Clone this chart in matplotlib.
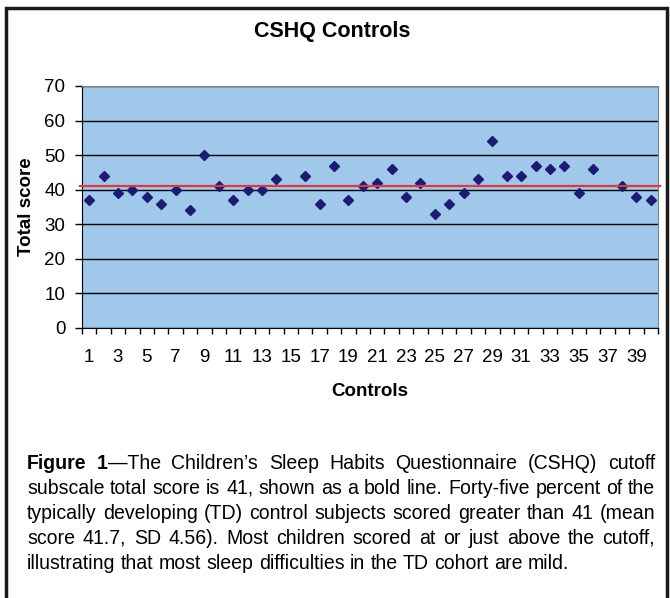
import numpy as np
import matplotlib
matplotlib.use('Agg')
from matplotlib import pyplot as plt
from matplotlib.patches import Rectangle
from matplotlib.transforms import IdentityTransform

# Values
controls = list(range(1, 41))
scores = [37, 44, 39, 40, 38, 36, 40, 34, 50, 41, 37, 40, 40, 43, np.nan, 44, 36, 47, 37,
          41, 42, 46, 38, 42, 33, 36, 39, 43, 54, 44, 44, 47, 46, 47, 39, 46, np.nan, 41, 38, 37]
cutoff = 41
yticks = list(range(0, 71, 10))
xtick_labels = [str(c) for c in controls[::2]]
title = 'CSHQ Controls'
xlabel, ylabel = 'Controls', 'Total score'
caption = [
    'Figure 1—The Children’s Sleep Habits Questionnaire (CSHQ) cutoff',
    'subscale total score is 41, shown as a bold line. Forty-five percent of the',
    'typically developing (TD) control subjects scored greater than 41 (mean',
    'score 41.7, SD 4.56). Most children scored at or just above the cutoff,',
    'illustrating that most sleep difficulties in the TD cohort are mild.',
]
bold_prefix = 'Figure 1'

plt.rcParams['font.family'] = ['Liberation Sans', 'DejaVu Sans']
W, H = 670, 598
fig = plt.figure(figsize=(W / 100, H / 100), dpi=100)
ax = fig.add_axes([82 / W, 1 - 328 / H, 576 / W, 242 / H])

ax.set_facecolor('#9FC8EA')
ax.plot(controls, scores, 'D', color='#1C1C72', ms=5.5, ls='none', zorder=3, clip_on=False)
ax.axhline(cutoff, xmin=-0.004, xmax=1.004, color='#E3383A', lw=1.6, zorder=4, clip_on=False)

ax.set_xlim(0.5, 40.5)
ax.set_ylim(0, 70)
ax.set_yticks(yticks)
ax.yaxis.grid(True, color='black', lw=1)
ax.set_axisbelow(True)
# Excel style: ticks between categories, every other category labelled
ax.set_xticks(np.arange(0.5, 41, 1))
ax.set_xticklabels([])
ax.set_xticks(controls[::2], minor=True)
ax.set_xticklabels(xtick_labels, minor=True)
ax.tick_params(axis='x', which='major', length=4, width=1, direction='out')
ax.tick_params(axis='x', which='minor', length=0, labelsize=13.5, pad=15)
ax.tick_params(axis='y', length=5, width=1, labelsize=13.5, pad=7)
for s in ('top', 'right'):
    ax.spines[s].set_color('#808080')
for s in ('left', 'bottom'):
    ax.spines[s].set_color('black')

fig.text(332 / W, 1 - 31 / H, title, ha='center', va='center', fontsize=15.5, fontweight='bold')
fig.text(27 / W, 1 - 207 / H, ylabel, rotation=90, ha='center', va='center', fontsize=13.5, fontweight='bold')
fig.text(370 / W, 1 - 392 / H, xlabel, ha='center', va='center', fontsize=13.5, fontweight='bold')

# frame around chart + caption
fig.add_artist(Rectangle((6 / W, -0.1), 661 / W, 1.1 - 8 / H, transform=fig.transFigure,
                         fill=False, ec='#1A1A1A', lw=2.5, clip_on=False))

# caption, justified between x0 and x1 (condensed face if one is installed)
renderer = fig.canvas.get_renderer()
cap_family = ['Liberation Sans Narrow', 'Noto Sans Condensed', 'DejaVu Sans Condensed',
              'Liberation Sans', 'DejaVu Sans']
x0, x1 = 27, 655
baselines = [469, 494, 519, 544, 569]

def txt(s, weight, size):
    return fig.text(0, 0, s, transform=IdentityTransform(), fontsize=size, fontweight=weight,
                    family=cap_family, ha='left', va='baseline')

def width(t):
    return t.get_window_extent(renderer).width

# fit size so that the last (unjustified) line is as wide as in the picture
probe = txt(caption[-1], 'normal', 12)
cap_size = min(12 * 543 / width(probe), 17)
probe.remove()
sp = txt('a a', 'normal', cap_size); nsp = txt('aa', 'normal', cap_size)
space = width(sp) - width(nsp)
sp.remove(); nsp.remove()

for i, line in enumerate(caption):
    words = []
    bold_left = len(bold_prefix) if i == 0 else 0
    for w in line.split(' '):
        runs = []
        if bold_left > 0:
            b = w[:bold_left]
            runs.append(txt(b, 'bold', cap_size))
            bold_left -= len(b) + 1
            if len(w) > len(b):
                runs.append(txt(w[len(b):], 'normal', cap_size))
        else:
            runs.append(txt(w, 'normal', cap_size))
        words.append(runs)
    widths = [[width(r) for r in runs] for runs in words]
    total = sum(sum(ws) for ws in widths)
    last = i == len(caption) - 1
    gap = space if last else (x1 - x0 - total) / (len(words) - 1)
    x, y = x0, H - baselines[i]
    for runs, ws in zip(words, widths):
        for r, w in zip(runs, ws):
            r.set_position((x, y))
            x += w
        x += gap

fig.savefig('out.png', dpi=100)
